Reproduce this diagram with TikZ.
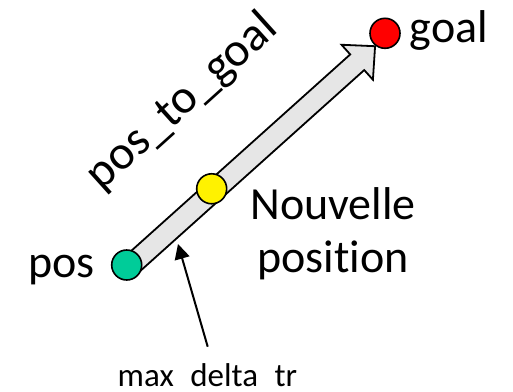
\documentclass[tikz,border=0pt]{standalone}
\usepackage{fontspec}
\setmainfont{Carlito}[Ligatures=NoCommon]
\usetikzlibrary{calc,arrows.meta}
\definecolor{startgreen}{HTML}{00CC99}
\definecolor{shaftgray}{HTML}{E6E6E6}
\begin{document}
\begin{tikzpicture}[x=1pt,y=-1pt,
  dot/.style={circle, draw=black, line width=1.6pt, minimum size=30pt, inner sep=0pt},
  biglabel/.style={font=\fontsize{46}{53}\selectfont, inner sep=0pt},
  smalllabel/.style={font=\fontsize{33}{40}\selectfont, inner sep=0pt},
  blockarrow/.style={draw=black, fill=shaftgray, line width=1.8pt, line join=miter},
  pointer/.style={draw=black, line width=2pt, -{Triangle[length=15pt,width=15pt]}}]
\useasboundingbox (0,0) rectangle (513,391);

% end points of the move
\coordinate (posc) at (126.7,265);
\coordinate (goalc) at (385,33.3);

% axis of the block arrow, shifted slightly off the centre line
\coordinate (a0) at ($(posc)!3pt!-90:(goalc)$);
\coordinate (g0) at ($(goalc)!3pt!90:(posc)$);
\coordinate (hb) at ($(a0)!307pt!(g0)$);
\coordinate (tp) at ($(a0)!331pt!(g0)$);

% block arrow pos -> goal
\draw[blockarrow]
  ($(a0)!10.5pt!90:(g0)$) -- ($(hb)!10.5pt!90:(g0)$) -- ($(hb)!23.5pt!90:(g0)$)
  -- (tp) -- ($(hb)!23.5pt!-90:(g0)$) -- ($(hb)!10.5pt!-90:(g0)$)
  -- ($(a0)!10.5pt!-90:(g0)$) -- cycle;

% positions
\node[dot, fill=startgreen] (pos) at (posc) {};
\node[dot, fill=yellow] (newpos) at ($(posc)!0.329!(goalc)$) {};
\node[dot, fill=red] (goal) at (goalc) {};

% labels
\node[biglabel, anchor=base] (poslbl) at (61.5,277) {pos};
\node[biglabel, anchor=base] (goallbl) at (449,42) {goal};
\node[biglabel, anchor=base, align=center] (newlbl) at (333,272.5) {Nouvelle\\position};
\node[biglabel, font=\fontsize{48}{56}\selectfont, anchor=base, rotate=42] (veclbl) at (190.8,111.5) {pos\_to\_goal};

% the parameter name sits on the lower edge, its underscores cut off
\begin{scope}
  \clip (0,0) rectangle (513,387.0);
  \node[smalllabel, anchor=base] (deltalbl) at (207.4,386.7) {max\_delta\_tr};
\end{scope}

% pointer to the shaft width
\coordinate (ptail) at (207.7,346.7);
\coordinate (phead) at (178,244);
\draw[pointer] (ptail) -- (phead);
\end{tikzpicture}
\end{document}
